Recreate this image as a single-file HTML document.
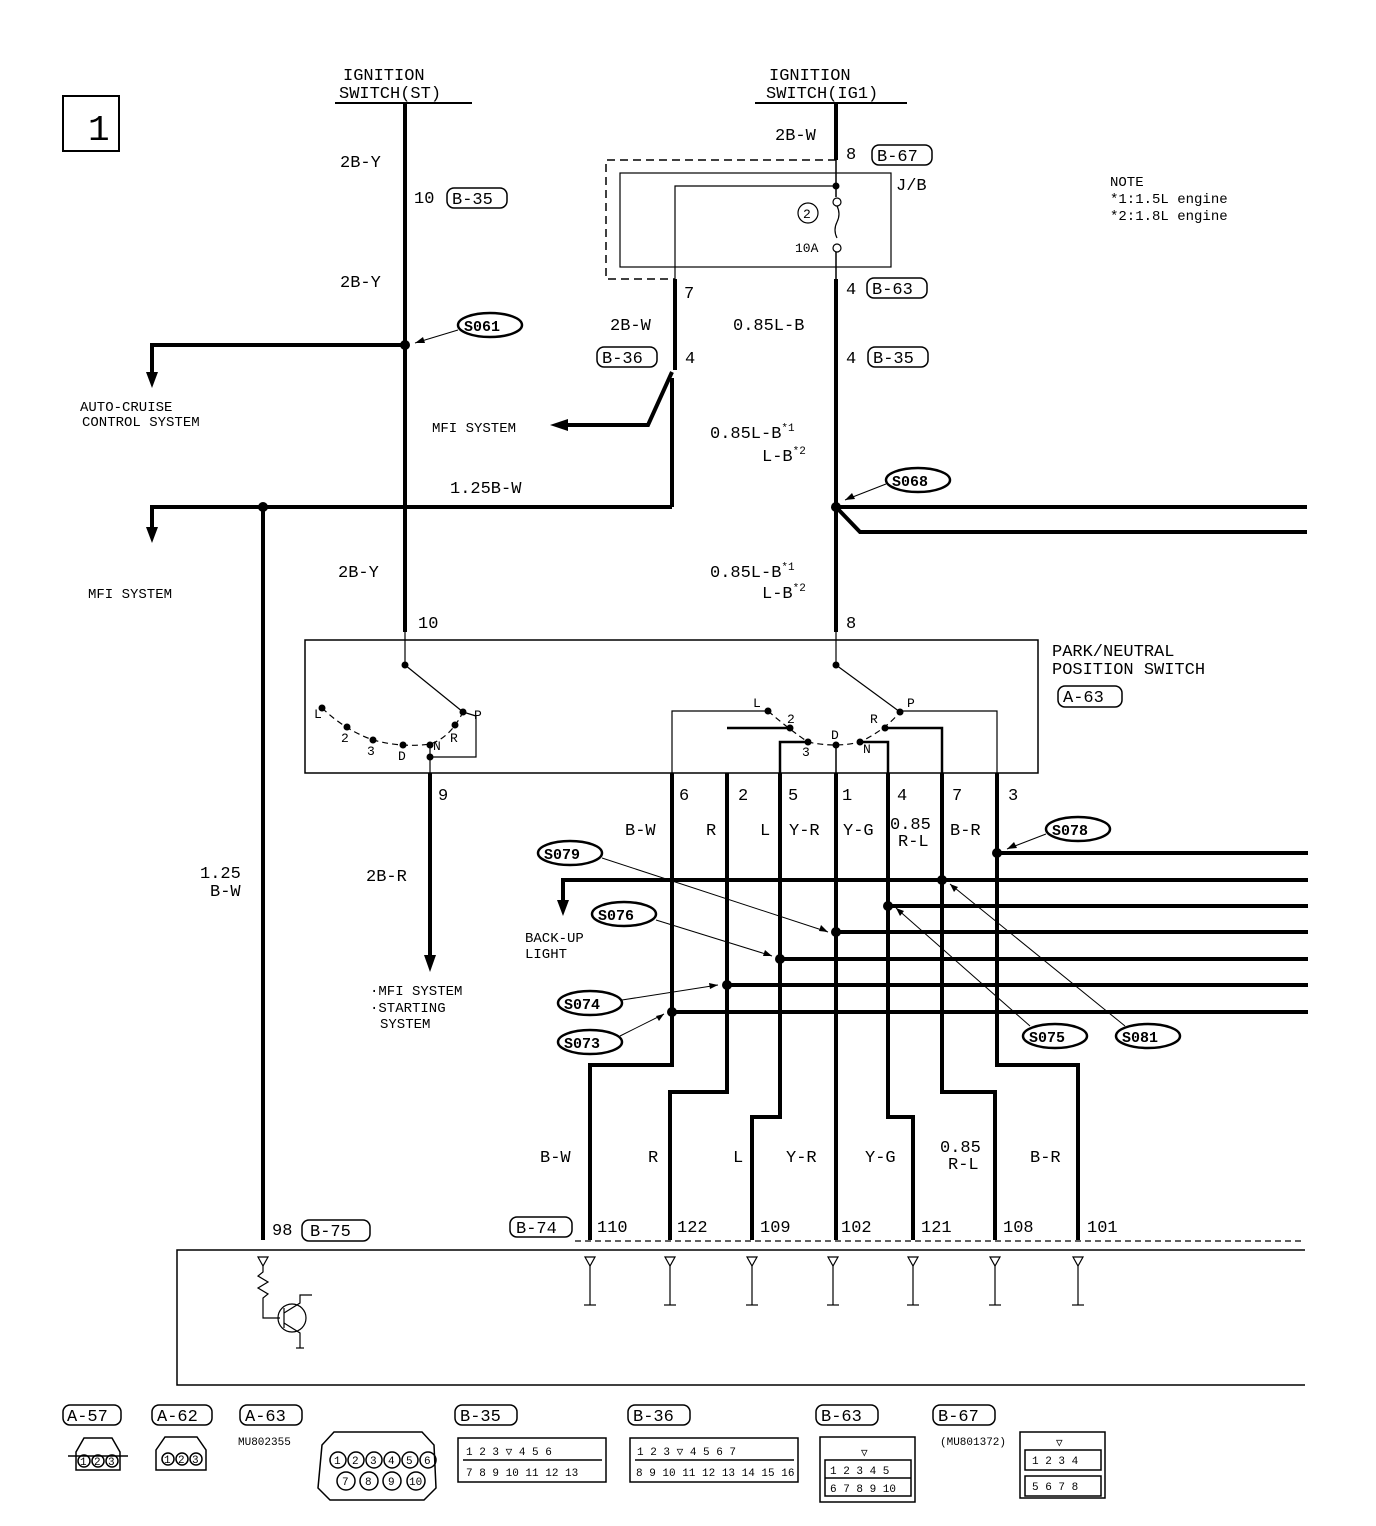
<!DOCTYPE html>
<html><head><meta charset="utf-8"><style>
html,body{margin:0;padding:0;background:#fff;}
svg{display:block;}
text{font-family:"Liberation Mono",monospace;fill:#000;stroke:none;}
.t{font-size:17px;}
.s{font-size:14px;}
.b{font-weight:bold;font-size:15px;}
.w{font-size:13px;}
</style></head><body>
<svg width="1376" height="1526" viewBox="0 0 1376 1526" xmlns="http://www.w3.org/2000/svg">
<g fill="none" stroke="#000">
<rect x="63" y="96" width="56" height="55" stroke-width="2"/>
<line x1="335" y1="103" x2="472" y2="103" stroke-width="2"/>
<line x1="755" y1="103" x2="907" y2="103" stroke-width="2"/>
<g stroke-width="4">
<line x1="405" y1="103" x2="405" y2="632"/>
<line x1="836" y1="103" x2="836" y2="160"/>
<line x1="836" y1="279" x2="836" y2="632"/>
<line x1="675" y1="279" x2="675" y2="370"/>
<polyline points="672,372 648,425 565,425"/>
<line x1="672" y1="378" x2="672" y2="507"/>
<polyline points="152,375 152,345 405,345"/>
<polyline points="152,530 152,507 672,507"/>
<line x1="263" y1="507" x2="263" y2="1240"/>
<line x1="836" y1="507" x2="1307" y2="507"/>
<polyline points="836,507 860,532 1307,532"/>
<line x1="430" y1="773" x2="430" y2="958"/>
<polyline points="672,773 672,1065 590,1065 590,1240"/>
<polyline points="727,773 727,1092 670,1092 670,1240"/>
<polyline points="780,773 780,1117 752,1117 752,1240"/>
<line x1="836" y1="773" x2="836" y2="1240"/>
<polyline points="888,773 888,1117 913,1117 913,1240"/>
<polyline points="942,773 942,1092 995,1092 995,1240"/>
<polyline points="997,773 997,1065 1078,1065 1078,1240"/>
<line x1="997" y1="853" x2="1308" y2="853"/>
<polyline points="563,903 563,880 1308,880"/>
<line x1="888" y1="906" x2="1308" y2="906"/>
<line x1="836" y1="932" x2="1308" y2="932"/>
<line x1="780" y1="959" x2="1308" y2="959"/>
<line x1="727" y1="985" x2="1308" y2="985"/>
<line x1="672" y1="1012" x2="1308" y2="1012"/>
</g>
<g fill="#000" stroke="none">
<path d="M146,372 L158,372 L152,388 z"/>
<path d="M146,527 L158,527 L152,543 z"/>
<path d="M424,955 L436,955 L430,972 z"/>
<path d="M557,900 L569,900 L563,916 z"/>
<path d="M568,419 L568,431 L550,425 z"/>
<circle cx="405" cy="345" r="5"/><circle cx="263" cy="507" r="5"/><circle cx="836" cy="507" r="5"/>
<circle cx="997" cy="853" r="5"/><circle cx="942" cy="880" r="5"/><circle cx="888" cy="906" r="5"/>
<circle cx="836" cy="932" r="5"/><circle cx="780" cy="959" r="5"/><circle cx="727" cy="985" r="5"/><circle cx="672" cy="1012" r="5"/>
</g>
<polyline points="836,160 606,160 606,279 675,279" stroke-width="1.5" stroke-dasharray="8,5"/>
<rect x="620" y="173" width="271" height="94" stroke-width="1.2"/>
<line x1="836" y1="160" x2="836" y2="197" stroke-width="1.5"/>
<polyline points="836,186 675,186 675,279" stroke-width="1.2"/>
<circle cx="836" cy="186" r="3" fill="#000"/>
<circle cx="837" cy="202" r="4" stroke-width="1.2"/>
<path d="M837,206 q4,8 0,16 q-4,8 0,16" stroke-width="1.2"/>
<circle cx="837" cy="248" r="4" stroke-width="1.2"/>
<line x1="836" y1="252" x2="836" y2="279" stroke-width="1.5"/>
<circle cx="808" cy="213" r="10" stroke-width="1.2"/>
<rect x="305" y="640" width="733" height="133" stroke-width="1.5"/>
<line x1="405" y1="632" x2="405" y2="665" stroke-width="1.2"/>
<line x1="405" y1="665" x2="463" y2="712" stroke-width="1.2"/>
<path d="M322,708 Q345,730 373,740 Q403,748 430,744 Q450,738 463,712" stroke-width="1.2" stroke-dasharray="6,4"/>
<polyline points="430,745 430,773" stroke-width="1.2"/>
<polyline points="430,757 476,757 476,716 463,712" stroke-width="1.2"/>
<g fill="#000" stroke="none">
<circle cx="405" cy="665" r="3.5"/><circle cx="463" cy="712" r="3.5"/>
<circle cx="322" cy="708" r="3.5"/><circle cx="347" cy="727" r="3.5"/><circle cx="373" cy="740" r="3.5"/>
<circle cx="403" cy="745" r="3.5"/><circle cx="430" cy="745" r="3.5"/><circle cx="455" cy="725" r="3.5"/><circle cx="430" cy="757" r="3.5"/>
</g>
<line x1="836" y1="632" x2="836" y2="665" stroke-width="1.2"/>
<line x1="836" y1="665" x2="900" y2="712" stroke-width="1.2"/>
<path d="M768,711 Q790,730 808,742 Q836,748 860,742 Q885,730 900,712" stroke-width="1.2" stroke-dasharray="6,4"/>
<polyline points="672,773 672,711 768,711" stroke-width="1.2"/>
<polyline points="727,728 790,728" stroke-width="2.5"/>
<polyline points="780,773 780,742 808,742" stroke-width="2.5"/>
<polyline points="836,745 836,773" stroke-width="1.5"/>
<polyline points="888,773 888,742 860,742" stroke-width="2.5"/>
<polyline points="942,773 942,728 885,728" stroke-width="2.5"/>
<polyline points="997,773 997,711 900,711" stroke-width="1.2"/>
<g fill="#000" stroke="none">
<circle cx="836" cy="665" r="3.5"/><circle cx="900" cy="712" r="3.5"/>
<circle cx="768" cy="711" r="3.5"/><circle cx="790" cy="728" r="3.5"/><circle cx="808" cy="742" r="3.5"/>
<circle cx="836" cy="745" r="3.5"/><circle cx="860" cy="742" r="3.5"/><circle cx="885" cy="728" r="3.5"/>
</g>
<g stroke-width="1.5">
<rect x="447" y="188" width="60" height="20" rx="7"/>
<rect x="872" y="145" width="60" height="20" rx="7"/>
<rect x="867" y="278" width="60" height="20" rx="7"/>
<rect x="597" y="347" width="60" height="20" rx="7"/>
<rect x="868" y="347" width="60" height="20" rx="7"/>
<rect x="1058" y="686" width="64" height="21" rx="7"/>
<rect x="302" y="1220" width="68" height="21" rx="7"/>
<rect x="510" y="1217" width="62" height="20" rx="7"/>
<rect x="63" y="1405" width="58" height="20" rx="7"/>
<rect x="152" y="1405" width="60" height="20" rx="7"/>
<rect x="240" y="1405" width="62" height="20" rx="7"/>
<rect x="455" y="1405" width="62" height="20" rx="7"/>
<rect x="628" y="1405" width="62" height="20" rx="7"/>
<rect x="816" y="1405" width="62" height="20" rx="7"/>
<rect x="933" y="1405" width="62" height="20" rx="7"/>
</g>
<g stroke-width="2.5">
<ellipse cx="490" cy="325" rx="32" ry="12"/>
<ellipse cx="918" cy="480" rx="32" ry="12"/>
<ellipse cx="1078" cy="829" rx="32" ry="12"/>
<ellipse cx="570" cy="853" rx="32" ry="12"/>
<ellipse cx="624" cy="914" rx="32" ry="12"/>
<ellipse cx="590" cy="1003" rx="32" ry="12"/>
<ellipse cx="590" cy="1042" rx="32" ry="12"/>
<ellipse cx="1055" cy="1036" rx="32" ry="12"/>
<ellipse cx="1148" cy="1036" rx="32" ry="12"/>
</g>
<g stroke-width="1">
<line x1="458" y1="330" x2="415" y2="343"/>
<line x1="886" y1="484" x2="845" y2="500"/>
<line x1="1046" y1="834" x2="1007" y2="849"/>
<line x1="602" y1="858" x2="828" y2="932"/>
<line x1="656" y1="920" x2="772" y2="956"/>
<line x1="622" y1="1000" x2="718" y2="985"/>
<line x1="620" y1="1036" x2="664" y2="1014"/>
<line x1="1030" y1="1026" x2="896" y2="908"/>
<line x1="1125" y1="1026" x2="950" y2="884"/>
</g>
<g fill="#000" stroke="none">
<path d="M415,343 l8,-6 l2,6 z"/><path d="M845,500 l7,-7 l3,6 z"/><path d="M1007,849 l7,-7 l3,6 z"/>
<path d="M828,932 l-9,-1 l2,-6 z"/><path d="M772,956 l-9,0 l2,-6 z"/><path d="M718,985 l-8,4 l-1,-6 z"/>
<path d="M664,1014 l-5,7 l-3,-5 z"/><path d="M896,908 l8,3 l-4,5 z"/><path d="M950,884 l8,3 l-4,5 z"/>
</g>
<line x1="575" y1="1241" x2="1305" y2="1241" stroke-width="1.2" stroke-dasharray="6,4"/>
<polyline points="1305,1250 177,1250 177,1385 1305,1385" stroke-width="1.5"/>
<g stroke-width="1.2">
<path d="M258,1257 L268,1257 L263,1266 z"/>
<polyline points="263,1266 263,1272 258,1276 268,1282 258,1288 268,1294 263,1298 263,1318 280,1318"/>
<circle cx="292" cy="1318" r="14"/>
<line x1="284" y1="1308" x2="284" y2="1328"/>
<polyline points="284,1313 300,1303 300,1295 312,1295"/>
<polyline points="284,1323 300,1333 300,1348"/>
<line x1="296" y1="1348" x2="304" y2="1348"/>
</g>
<g stroke-width="1.2">
<path d="M585,1257 L595,1257 L590,1266 z"/><polyline points="590,1266 590,1305"/><line x1="584" y1="1305" x2="596" y2="1305"/>
<path d="M665,1257 L675,1257 L670,1266 z"/><polyline points="670,1266 670,1305"/><line x1="664" y1="1305" x2="676" y2="1305"/>
<path d="M747,1257 L757,1257 L752,1266 z"/><polyline points="752,1266 752,1305"/><line x1="746" y1="1305" x2="758" y2="1305"/>
<path d="M828,1257 L838,1257 L833,1266 z"/><polyline points="833,1266 833,1305"/><line x1="827" y1="1305" x2="839" y2="1305"/>
<path d="M908,1257 L918,1257 L913,1266 z"/><polyline points="913,1266 913,1305"/><line x1="907" y1="1305" x2="919" y2="1305"/>
<path d="M990,1257 L1000,1257 L995,1266 z"/><polyline points="995,1266 995,1305"/><line x1="989" y1="1305" x2="1001" y2="1305"/>
<path d="M1073,1257 L1083,1257 L1078,1266 z"/><polyline points="1078,1266 1078,1305"/><line x1="1072" y1="1305" x2="1084" y2="1305"/>
</g>
<g stroke-width="1.5">
<path d="M76,1452 L84,1438 L112,1438 L120,1452 L120,1470 L76,1470 z"/>
<line x1="68" y1="1456" x2="128" y2="1456"/>
<circle cx="84" cy="1461" r="6"/><circle cx="98" cy="1461" r="6"/><circle cx="112" cy="1461" r="6"/>
<path d="M156,1450 L165,1437 L197,1437 L206,1450 L206,1470 L156,1470 z"/>
<circle cx="168" cy="1459" r="6"/><circle cx="182" cy="1459" r="6"/><circle cx="196" cy="1459" r="6"/>
<path d="M322,1445 L334,1432 L422,1432 L434,1445 L436,1488 L424,1500 L330,1500 L318,1488 z"/>
<circle cx="338" cy="1460" r="8"/><circle cx="356" cy="1460" r="8"/><circle cx="374" cy="1460" r="8"/><circle cx="392" cy="1460" r="8"/><circle cx="410" cy="1460" r="8"/><circle cx="428" cy="1460" r="8"/>
<circle cx="346" cy="1481" r="9"/><circle cx="369" cy="1481" r="9"/><circle cx="392" cy="1481" r="9"/><circle cx="416" cy="1481" r="9"/>
<rect x="458" y="1438" width="148" height="44"/>
<line x1="463" y1="1460" x2="602" y2="1460"/>
<rect x="630" y="1438" width="168" height="44"/>
<line x1="635" y1="1460" x2="794" y2="1460"/>
<rect x="820" y="1437" width="95" height="65"/>
<rect x="825" y="1460" width="86" height="36"/>
<line x1="825" y1="1478" x2="911" y2="1478"/>
<rect x="1020" y="1432" width="85" height="66"/>
<rect x="1025" y="1450" width="76" height="20"/>
<rect x="1025" y="1476" width="76" height="20"/>
</g>
</g>
<g class="w">
<text x="314" y="718">L</text><text x="341" y="742">2</text><text x="367" y="755">3</text><text x="398" y="760">D</text><text x="433" y="750">N</text><text x="450" y="742">R</text><text x="474" y="719">P</text>
<text x="753" y="707">L</text><text x="787" y="723">2</text><text x="802" y="756">3</text><text x="831" y="739">D</text><text x="863" y="753">N</text><text x="870" y="723">R</text><text x="907" y="707">P</text>
</g>
<g class="t">
<text x="88" y="140" font-size="36" font-family="Liberation Sans">1</text>
<text x="343" y="80">IGNITION</text>
<text x="339" y="98">SWITCH(ST)</text>
<text x="769" y="80">IGNITION</text>
<text x="766" y="98">SWITCH(IG1)</text>
<text x="340" y="167">2B-Y</text>
<text x="414" y="203">10</text><text x="452" y="204">B-35</text>
<text x="340" y="287">2B-Y</text>
<text x="775" y="140">2B-W</text>
<text x="846" y="159">8</text><text x="877" y="161">B-67</text>
<text x="896" y="190">J/B</text>
<text x="803" y="218" class="w">2</text>
<text x="795" y="252" class="w">10A</text>
<text x="684" y="298">7</text>
<text x="846" y="294">4</text><text x="872" y="294">B-63</text>
<text x="610" y="330">2B-W</text>
<text x="733" y="330">0.85L-B</text>
<text x="602" y="363">B-36</text><text x="685" y="363">4</text>
<text x="846" y="363">4</text><text x="873" y="363">B-35</text>
<text x="80" y="411" class="s">AUTO-CRUISE</text>
<text x="82" y="426" class="s">CONTROL SYSTEM</text>
<text x="432" y="432" class="s">MFI SYSTEM</text>
<text x="710" y="438">0.85L-B<tspan font-size="11" dy="-7">*1</tspan></text>
<text x="762" y="461">L-B<tspan font-size="11" dy="-7">*2</tspan></text>
<text x="450" y="493">1.25B-W</text>
<text x="88" y="598" class="s">MFI SYSTEM</text>
<text x="338" y="577">2B-Y</text>
<text x="710" y="577">0.85L-B<tspan font-size="11" dy="-7">*1</tspan></text>
<text x="762" y="598">L-B<tspan font-size="11" dy="-7">*2</tspan></text>
<text x="418" y="628">10</text>
<text x="846" y="628">8</text>
<text x="1052" y="656">PARK/NEUTRAL</text>
<text x="1052" y="674">POSITION SWITCH</text>
<text x="1063" y="702">A-63</text>
<text x="1110" y="186" class="s">NOTE</text>
<text x="1110" y="203" class="s">*1:1.5L engine</text>
<text x="1110" y="220" class="s">*2:1.8L engine</text>
<text x="438" y="800">9</text>
<text x="679" y="800">6</text><text x="738" y="800">2</text><text x="788" y="800">5</text><text x="842" y="800">1</text><text x="897" y="800">4</text><text x="952" y="800">7</text><text x="1008" y="800">3</text>
<text x="625" y="835">B-W</text><text x="706" y="835">R</text><text x="760" y="835">L</text><text x="789" y="835">Y-R</text><text x="843" y="835">Y-G</text>
<text x="890" y="829">0.85</text><text x="898" y="846">R-L</text><text x="950" y="835">B-R</text>
<text x="200" y="878">1.25</text><text x="210" y="896">B-W</text>
<text x="366" y="881">2B-R</text>
<text x="525" y="942" class="s">BACK-UP</text><text x="525" y="958" class="s">LIGHT</text>
<text x="370" y="995" class="s">·MFI SYSTEM</text><text x="370" y="1012" class="s">·STARTING</text><text x="380" y="1028" class="s">SYSTEM</text>
<text x="540" y="1162">B-W</text><text x="648" y="1162">R</text><text x="733" y="1162">L</text><text x="786" y="1162">Y-R</text><text x="865" y="1162">Y-G</text>
<text x="940" y="1152">0.85</text><text x="948" y="1169">R-L</text><text x="1030" y="1162">B-R</text>
<text x="272" y="1235">98</text><text x="310" y="1236">B-75</text>
<text x="516" y="1233">B-74</text>
<text x="597" y="1232">110</text><text x="677" y="1232">122</text><text x="760" y="1232">109</text><text x="841" y="1232">102</text><text x="921" y="1232">121</text><text x="1003" y="1232">108</text><text x="1087" y="1232">101</text>
<text x="67" y="1421">A-57</text><text x="157" y="1421">A-62</text><text x="245" y="1421">A-63</text>
<text x="460" y="1421">B-35</text><text x="633" y="1421">B-36</text><text x="821" y="1421">B-63</text><text x="938" y="1421">B-67</text>
</g>
<g class="b">
<text x="464" y="331">S061</text><text x="892" y="486">S068</text><text x="1052" y="835">S078</text>
<text x="544" y="859">S079</text><text x="598" y="920">S076</text><text x="564" y="1009">S074</text>
<text x="564" y="1048">S073</text><text x="1029" y="1042">S075</text><text x="1122" y="1042">S081</text>
</g>
<g font-size="11">
<text x="238" y="1445">MU802355</text>
<text x="940" y="1445">(MU801372)</text>
<text x="80" y="1465">1</text><text x="94" y="1465">2</text><text x="108" y="1465">3</text>
<text x="164" y="1463">1</text><text x="178" y="1463">2</text><text x="192" y="1463">3</text>
<text x="334" y="1464">1</text><text x="352" y="1464">2</text><text x="370" y="1464">3</text><text x="388" y="1464">4</text><text x="406" y="1464">5</text><text x="424" y="1464">6</text>
<text x="342" y="1485">7</text><text x="365" y="1485">8</text><text x="388" y="1485">9</text><text x="409" y="1485">10</text>
<text x="466" y="1455">1 2 3  ▽  4 5 6</text>
<text x="466" y="1476">7 8 9  10 11 12 13</text>
<text x="637" y="1455">1 2 3  ▽  4 5 6 7</text>
<text x="636" y="1476">8 9 10 11 12 13 14 15 16</text>
<text x="861" y="1456">▽</text>
<text x="830" y="1474">1 2 3 4 5</text>
<text x="830" y="1492">6 7 8 9 10</text>
<text x="1056" y="1446">▽</text>
<text x="1032" y="1464">1 2 3 4</text>
<text x="1032" y="1490">5 6 7 8</text>
</g>
</svg>
</body></html>
